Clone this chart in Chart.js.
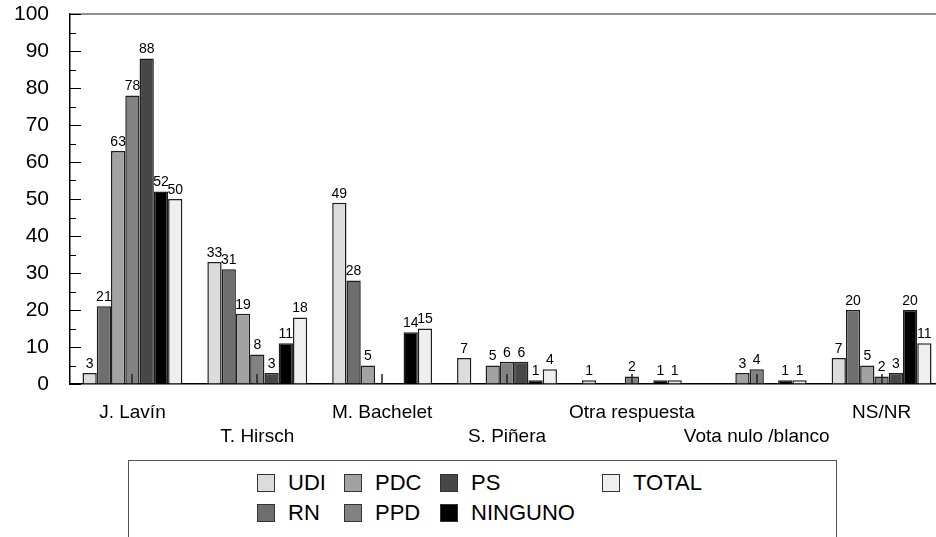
<!DOCTYPE html>
<html>
<head>
<meta charset="utf-8">
<script src="https://cdn.jsdelivr.net/npm/chart.js@4.4.0/dist/chart.umd.min.js"></script>
<style>
  body { margin: 0; background: #fff; overflow: hidden; }
  #wrap { position: relative; width: 944px; height: 537px; }
  #legend {
    position: absolute; left: 128px; top: 460px; width: 709px; height: 90px;
    border: 1px solid #555; box-sizing: border-box;
    font-family: "Liberation Sans", Arial, sans-serif; font-size: 22px; color: #000;
  }
  .item { position: absolute; height: 26px; line-height: 26px; white-space: nowrap; }
  .sw { position: absolute; left: 0; top: 4px; width: 18px; height: 18px; border: 1px solid #333; box-sizing: border-box; }
  .lbl { position: absolute; left: 31px; top: 0; }
</style>
</head>
<body>
<div id="wrap">
  <canvas id="chart" width="944" height="458"></canvas>
  <div id="legend"></div>
</div>
<script>
const categories = ['J. Lavín', 'T. Hirsch', 'M. Bachelet', 'S. Piñera', 'Otra respuesta', 'Vota nulo /blanco', 'NS/NR'];
const seriesNames = ['UDI', 'RN', 'PDC', 'PPD', 'PS', 'NINGUNO', 'TOTAL'];
const udi = [3, 33, 49, 7, 1, 0, 7];
const rn = [21, 31, 28, 0, 0, 0, 20];
const pdc = [63, 19, 5, 5, 0, 3, 5];
const ppd = [78, 8, 0, 6, 2, 4, 2];
const ps = [88, 3, 0, 6, 0, 0, 3];
const ninguno = [52, 11, 14, 1, 1, 1, 20];
const total = [50, 18, 15, 4, 1, 1, 11];
const yTicks = [0, 10, 20, 30, 40, 50, 60, 70, 80, 90, 100];

const seriesValues = [udi, rn, pdc, ppd, ps, ninguno, total];
const colors = ['#dcdcdc', '#6e6e6e', '#a2a2a2', '#828282', '#474747', '#000000', '#efefef'];
const FONT = '"Liberation Sans", Arial, sans-serif';

// axis ticks drawn inside the plot, plus the grey top frame
const frame = {
  id: 'frame',
  beforeDatasetsDraw(chart) {
    const { ctx, chartArea: a, scales: { y } } = chart;
    ctx.save();
    ctx.strokeStyle = '#6b6b6b';
    ctx.lineWidth = 1.5;
    ctx.beginPath();
    ctx.moveTo(a.left, a.top);
    ctx.lineTo(a.right, a.top);
    ctx.stroke();
    ctx.strokeStyle = '#000';
    ctx.lineWidth = 1;
    for (let v = 0; v <= 100; v += 5) {
      const py = Math.round(y.getPixelForValue(v)) + 0.5;
      const len = v % 10 === 0 ? 11 : 6;
      ctx.beginPath();
      ctx.moveTo(a.left, py);
      ctx.lineTo(a.left + len, py);
      ctx.stroke();
    }
    ctx.restore();
  },
  afterDatasetsDraw(chart) {
    const { ctx, chartArea: a, scales: { x } } = chart;
    ctx.save();
    ctx.strokeStyle = '#222';
    ctx.lineWidth = 1.5;
    categories.forEach((c, i) => {
      const px = Math.round(x.getPixelForValue(i));
      ctx.beginPath();
      ctx.moveTo(px, a.bottom);
      ctx.lineTo(px, a.bottom - 10);
      ctx.stroke();
    });
    // value labels
    ctx.fillStyle = '#000';
    ctx.font = '14px ' + FONT;
    ctx.textAlign = 'center';
    ctx.textBaseline = 'bottom';
    chart.data.datasets.forEach((ds, di) => {
      chart.getDatasetMeta(di).data.forEach((bar, i) => {
        const v = ds.data[i];
        if (v > 0) ctx.fillText(String(v), bar.x, bar.y - 2);
      });
    });
    ctx.restore();
  }
};

const chart = new Chart(document.getElementById('chart'), {
  type: 'bar',
  data: {
    labels: categories,
    datasets: seriesNames.map((name, i) => ({
      label: name,
      data: seriesValues[i],
      backgroundColor: colors[i],
      borderColor: '#1e1e1e',
      borderWidth: ctx => (ctx.raw > 0 ? 1.5 : 0),
      borderSkipped: 'bottom',
      categoryPercentage: 0.8,
      barPercentage: 1
    }))
  },
  options: {
    responsive: false,
    animation: false,
    layout: { padding: { top: 14, right: 0, bottom: 0, left: 0 } },
    plugins: { legend: { display: false }, tooltip: { enabled: false } },
    scales: {
      x: {
        grid: { display: true, drawOnChartArea: false, drawTicks: false },
        border: { display: true, color: '#000', width: 1.5 },
        ticks: {
          autoSkip: false, maxRotation: 0, padding: 17, color: '#000',
          font: { family: FONT, size: 19, lineHeight: 1.263 },
          callback: (v, i) => (i % 2 === 0 ? categories[i] : ['', categories[i]])
        },
        afterFit: s => { s.height = 74; }
      },
      y: {
        min: 0, max: 100,
        afterBuildTicks: s => { s.ticks = yTicks.map(v => ({ value: v })); },
        grid: { display: true, drawOnChartArea: false, drawTicks: false },
        border: { display: true, color: '#000', width: 1.5 },
        ticks: { padding: 21, color: '#000', font: { family: FONT, size: 21 } },
        afterFit: s => { s.width = 70; s.paddingTop = 0; s.paddingBottom = 0; }
      }
    }
  },
  plugins: [frame]
});

// legend laid out in columns of two, as in the original
const legendEl = document.getElementById('legend');
const colX = [128, 215, 311, 473];
chart.data.datasets.forEach((ds, i) => {
  const item = document.createElement('div');
  item.className = 'item';
  item.style.left = colX[Math.floor(i / 2)] + 'px';
  item.style.top = (i % 2 === 0 ? 9 : 39) + 'px';
  const sw = document.createElement('span');
  sw.className = 'sw';
  sw.style.background = ds.backgroundColor;
  const lbl = document.createElement('span');
  lbl.className = 'lbl';
  lbl.textContent = ds.label;
  item.appendChild(sw);
  item.appendChild(lbl);
  legendEl.appendChild(item);
});
</script>
</body>
</html>
